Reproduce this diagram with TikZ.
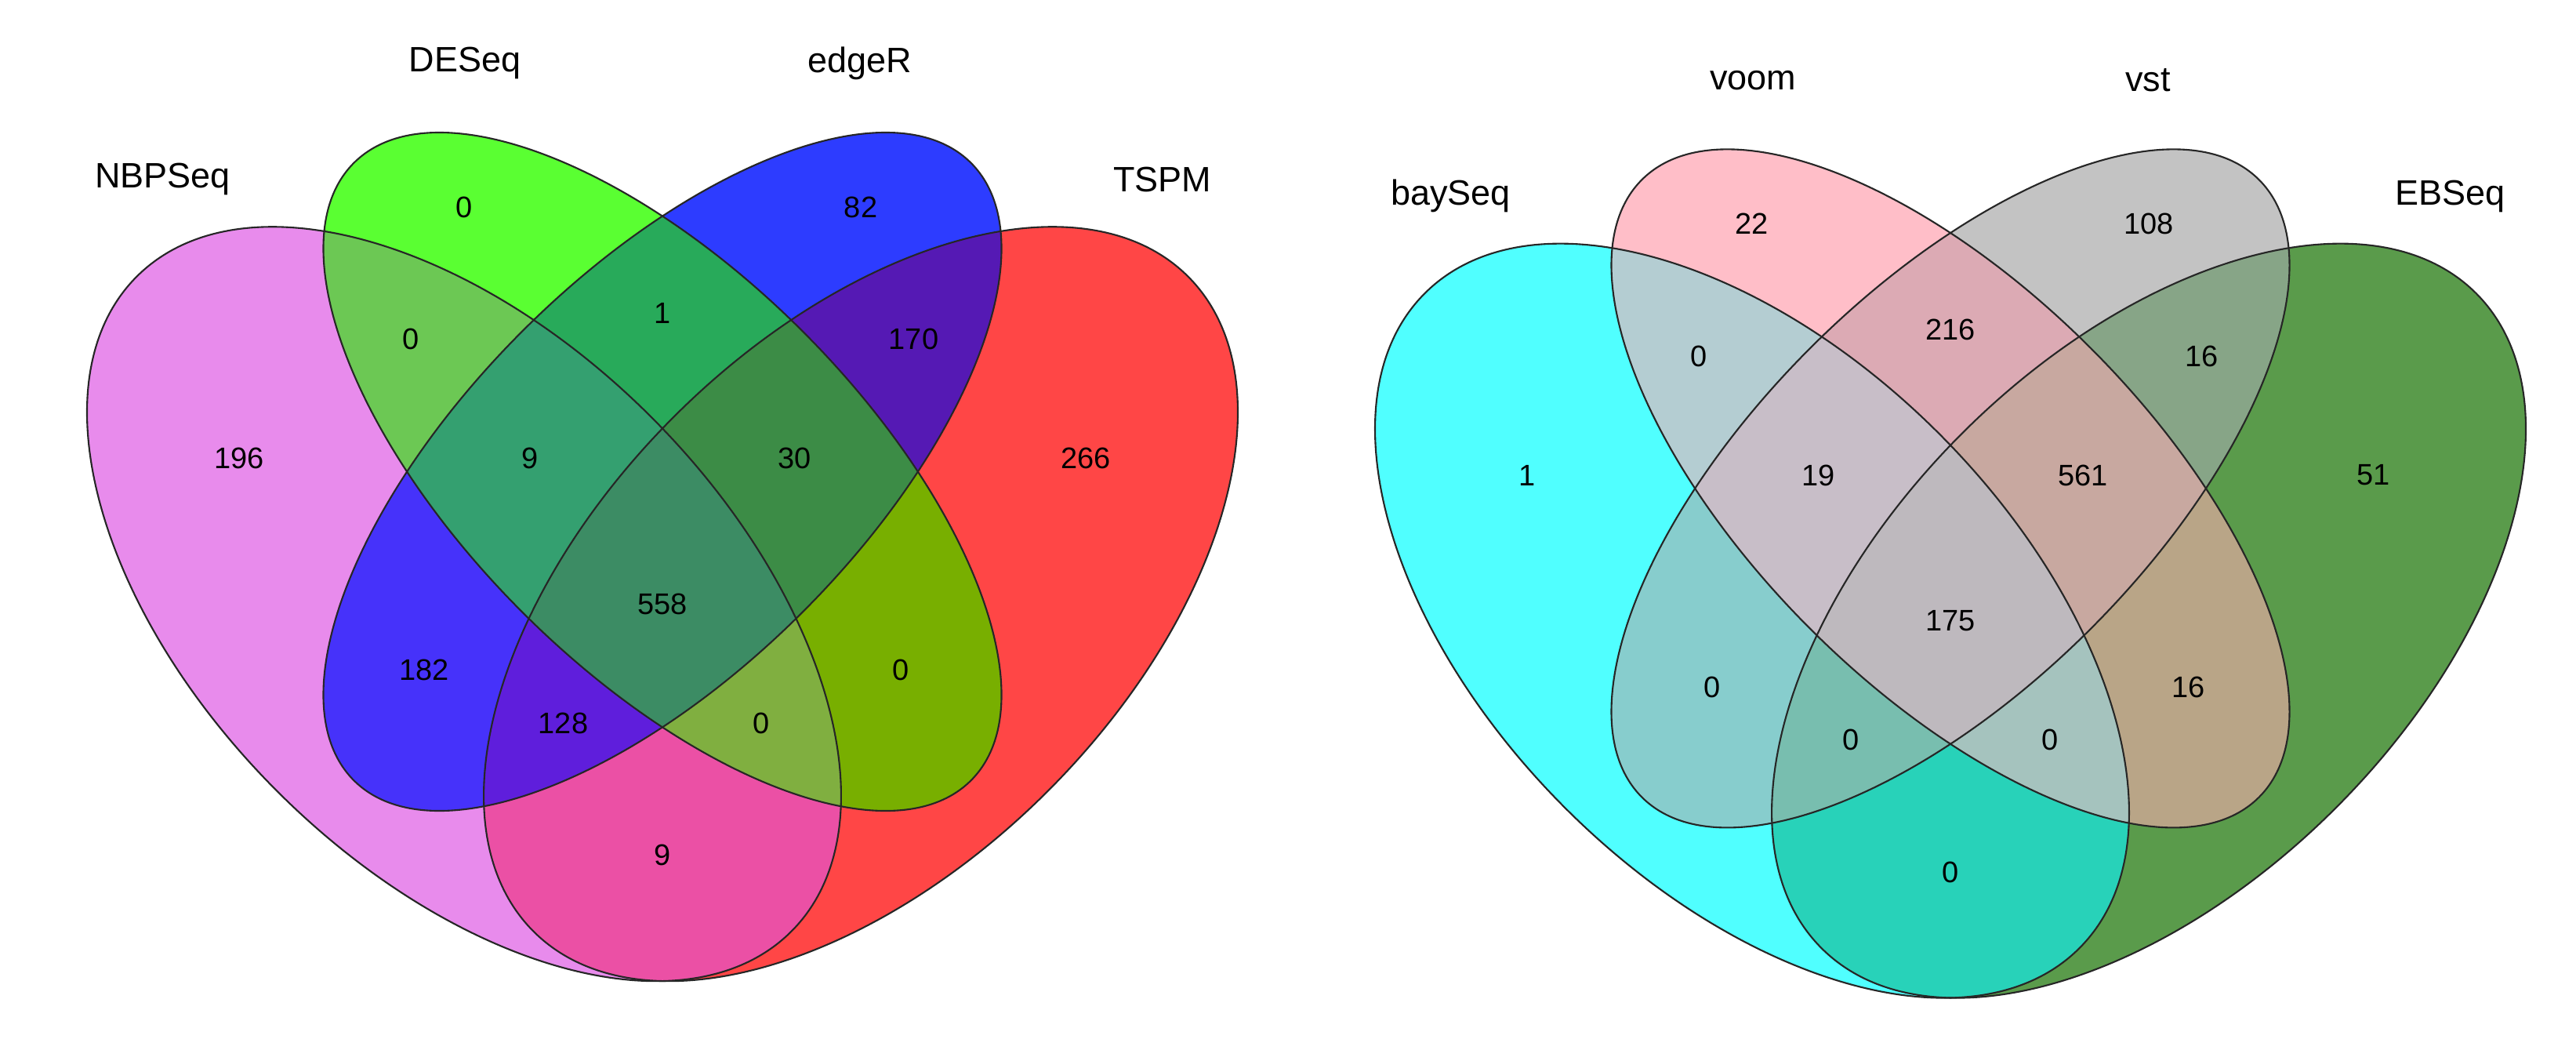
\documentclass[tikz,border=0pt]{standalone}
\usepackage{fontspec}
\setmainfont{Liberation Sans}

% the four ellipses, in the unit square of one diagram
\newcommand{\ellA}{(0.35,0.47) ellipse [x radius=0.35, y radius=0.2]}
\newcommand{\ellB}{(0.5,0.57) ellipse [x radius=0.33, y radius=0.15]}
\newcommand{\ellC}{(0.5,0.57) ellipse [x radius=0.33, y radius=0.15]}
\newcommand{\ellD}{(0.65,0.47) ellipse [x radius=0.35, y radius=0.2]}
% clockwise, so that an ellipse inside it cuts a hole
\newcommand{\wholebox}{(-1,-1) -- (-1,2) -- (2,2) -- (2,-1) -- cycle}

% 1: keep the inside of the set, 0: keep what is outside of it
\newcommand{\cutset}[3]{%
  \ifnum#1=1 \clip[#2] #3;\else\clip[#2] \wholebox #3;\fi}
% one of the fifteen pieces, filled with a hex colour
\newcommand{\piece}[5]{%
  \begin{scope}
    \definecolor{piecefill}{HTML}{#5}
    \cutset{#1}{setA}{\ellA}
    \cutset{#2}{setB}{\ellB}
    \cutset{#3}{setC}{\ellC}
    \cutset{#4}{setD}{\ellD}
    \fill[piecefill] \wholebox;
  \end{scope}}

\tikzset{
  setA/.style={rotate around={-45:(0.35,0.47)}},
  setB/.style={rotate around={-45:(0.5,0.57)}},
  setC/.style={rotate around={45:(0.5,0.57)}},
  setD/.style={rotate around={45:(0.65,0.47)}},
  rim/.style={draw=black!85, line width=0.6pt},
  tally/.style={font=\fontsize{10.8}{12}\selectfont, inner sep=0pt},
  setname/.style={font=\fontsize{12.8}{14}\selectfont, inner sep=0pt},
}

\begin{document}
\begin{tikzpicture}
\useasboundingbox (0,0) rectangle (32.86,13.38);

% left diagram
\begin{scope}[shift={(0.015,-2.251)}, scale=16.87]
  \piece{1}{0}{0}{0}{E88BEC}
  \piece{0}{1}{0}{0}{5AFF32}
  \piece{0}{0}{1}{0}{2D3CFF}
  \piece{0}{0}{0}{1}{FF4646}
  \piece{1}{1}{0}{0}{6CC854}
  \piece{0}{1}{1}{0}{28AA5A}
  \piece{0}{0}{1}{1}{5519B4}
  \piece{1}{1}{1}{0}{34A070}
  \piece{0}{1}{1}{1}{3C8C46}
  \piece{1}{1}{1}{1}{3C8C64}
  \piece{1}{0}{1}{0}{4632FA}
  \piece{0}{1}{0}{1}{78AF00}
  \piece{1}{0}{1}{1}{5F1EDC}
  \piece{1}{1}{0}{1}{80AF40}
  \piece{1}{0}{0}{1}{EB50A5}
  \draw[rim, setA] \ellA;
  \draw[rim, setB] \ellB;
  \draw[rim, setC] \ellC;
  \draw[rim, setD] \ellD;
  \foreach \px/\py/\val [count=\k] in {0.18/0.58/196, 0.35/0.77/0, 0.65/0.77/82,
      0.82/0.58/266, 0.31/0.67/0, 0.5/0.69/1, 0.69/0.67/170, 0.4/0.58/9,
      0.6/0.58/30, 0.5/0.47/558, 0.32/0.42/182, 0.68/0.42/0, 0.425/0.38/128,
      0.575/0.38/0, 0.5/0.28/9}
    \node[tally] (left\k) at (\px,\py) {\val};
  \node[setname] (nbpseq) at (0.122,0.791) {NBPSeq};
  \node[setname] (deseq) at (0.3507,0.8786) {DESeq};
  \node[setname] (edger) at (0.6493,0.8786) {edgeR};
  \node[setname] (tspm) at (0.878,0.791) {TSPM};
\end{scope}

% right diagram
\begin{scope}[shift={(16.445,-2.465)}, scale=16.87]
  \piece{1}{0}{0}{0}{50FFFF}
  \piece{0}{1}{0}{0}{FFBEC8}
  \piece{0}{0}{1}{0}{C3C3C3}
  \piece{0}{0}{0}{1}{5A9B4B}
  \piece{1}{1}{0}{0}{B4CDD2}
  \piece{0}{1}{1}{0}{DCAAB4}
  \piece{0}{0}{1}{1}{87A587}
  \piece{1}{1}{1}{0}{C8BEC8}
  \piece{0}{1}{1}{1}{C8A8A0}
  \piece{1}{1}{1}{1}{BEB9BE}
  \piece{1}{0}{1}{0}{87CDCD}
  \piece{0}{1}{0}{1}{B9A587}
  \piece{1}{0}{1}{1}{78BEAF}
  \piece{1}{1}{0}{1}{A5C3BE}
  \piece{1}{0}{0}{1}{28D2B9}
  \draw[rim, setA] \ellA;
  \draw[rim, setB] \ellB;
  \draw[rim, setC] \ellC;
  \draw[rim, setD] \ellD;
  \foreach \px/\py/\val [count=\k] in {0.18/0.58/1, 0.35/0.77/22, 0.65/0.77/108,
      0.82/0.58/51, 0.31/0.67/0, 0.5/0.69/216, 0.69/0.67/16, 0.4/0.58/19,
      0.6/0.58/561, 0.5/0.47/175, 0.32/0.42/0, 0.68/0.42/16, 0.425/0.38/0,
      0.575/0.38/0, 0.5/0.28/0}
    \node[tally] (right\k) at (\px,\py) {\val};
  \node[setname] (bayseq) at (0.122,0.791) {baySeq};
  \node[setname] (voom) at (0.3507,0.8786) {voom};
  \node[setname] (vst) at (0.6493,0.8786) {vst};
  \node[setname] (ebseq) at (0.878,0.791) {EBSeq};
\end{scope}
\end{tikzpicture}
\end{document}
